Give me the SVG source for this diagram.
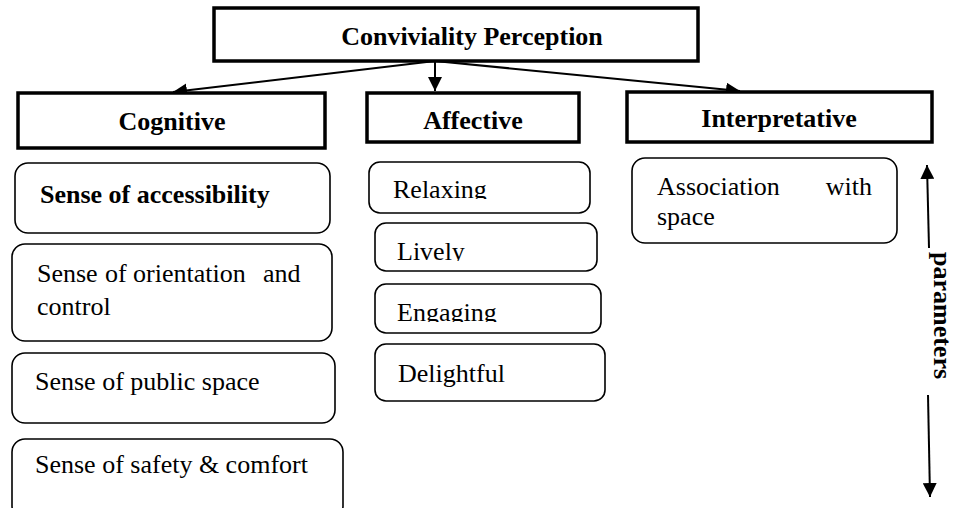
<svg xmlns="http://www.w3.org/2000/svg" width="956" height="508" viewBox="0 0 956 508">
<style>
  .hdr{fill:#fff;stroke:#000;stroke-width:3.5}
  .box{fill:#fff;stroke:#000;stroke-width:1.6}
  text{font-family:"Liberation Serif","DejaVu Serif",serif;font-size:26px;fill:#000}
  .bt{font-weight:bold}
  .ln{stroke:#000;stroke-width:2;fill:none}
</style>
<defs>
  <marker id="ah" markerUnits="userSpaceOnUse" markerWidth="15" markerHeight="14" refX="14" refY="7" orient="auto">
    <path d="M0,0 L14,7 L0,14 z" fill="#000"/>
  </marker>
  <clipPath id="cRelax"><rect x="369" y="162" width="221" height="37"/></clipPath>
  <clipPath id="cLively"><rect x="375" y="223" width="222" height="38"/></clipPath>
  <clipPath id="cEng"><rect x="375" y="284" width="226" height="38"/></clipPath>
</defs>
<rect width="956" height="508" fill="#fff"/>

<g id="connectors">
  <line class="ln" x1="435" y1="61" x2="173" y2="92" marker-end="url(#ah)"/>
  <line class="ln" x1="435" y1="61" x2="435" y2="91" marker-end="url(#ah)"/>
  <line class="ln" x1="435" y1="61" x2="740" y2="91" marker-end="url(#ah)"/>
  <line class="ln" x1="929" y1="248" x2="927" y2="165" marker-end="url(#ah)"/>
  <line class="ln" x1="928" y1="395" x2="930" y2="497" marker-end="url(#ah)"/>
</g>

<g id="conviviality">
  <rect class="hdr" x="214" y="8" width="484" height="53"/>
  <text class="bt" font-family="Liberation Serif, serif" x="472" y="45" text-anchor="middle">Conviviality Perception</text>
</g>
<g id="cognitive">
  <rect class="hdr" x="18" y="93" width="307" height="55"/>
  <text class="bt" x="172" y="130" text-anchor="middle">Cognitive</text>
</g>
<g id="affective">
  <rect class="hdr" x="367" y="93" width="212" height="49"/>
  <text class="bt" x="473" y="129" text-anchor="middle">Affective</text>
</g>
<g id="interpretative">
  <rect class="hdr" x="627" y="92" width="305" height="50"/>
  <text class="bt" x="779" y="127" text-anchor="middle">Interpretative</text>
</g>

<g id="accessibility">
  <rect class="box" x="15" y="163" width="315" height="70" rx="13" stroke-width="2.2"/>
  <text class="bt" x="40" y="203">Sense of accessibility</text>
</g>
<g id="orientation">
  <rect class="box" x="12" y="244" width="320" height="97" rx="13"/>
  <text y="282"><tspan x="37">Sense</tspan><tspan x="105">of</tspan><tspan x="133">orientation</tspan><tspan x="263">and</tspan></text>
  <text x="37" y="315">control</text>
</g>
<g id="public">
  <rect class="box" x="12" y="353" width="323" height="70" rx="13"/>
  <text x="35" y="390">Sense of public space</text>
</g>
<g id="safety">
  <rect class="box" x="12" y="439" width="331" height="80" rx="13"/>
  <text x="35" y="473">Sense of safety &amp; comfort</text>
</g>

<g id="relaxing">
  <rect class="box" x="369" y="162" width="221" height="51" rx="11"/>
  <text x="393" y="198" clip-path="url(#cRelax)">Relaxing</text>
</g>
<g id="lively">
  <rect class="box" x="375" y="223" width="222" height="48" rx="11"/>
  <text x="397" y="260" clip-path="url(#cLively)">Lively</text>
</g>
<g id="engaging">
  <rect class="box" x="375" y="284" width="226" height="49" rx="11"/>
  <text x="397" y="321" clip-path="url(#cEng)">Engaging</text>
</g>
<g id="delightful">
  <rect class="box" x="375" y="344" width="230" height="57" rx="11"/>
  <text x="398" y="382">Delightful</text>
</g>

<g id="association">
  <rect class="box" x="632" y="158" width="265" height="85" rx="13"/>
  <text x="657" y="195">Association</text>
  <text x="872" y="195" text-anchor="end">with</text>
  <text x="657" y="225">space</text>
</g>

<g id="parameters">
  <text class="bt" transform="translate(934,252) rotate(90)">parameters</text>
</g>
</svg>
